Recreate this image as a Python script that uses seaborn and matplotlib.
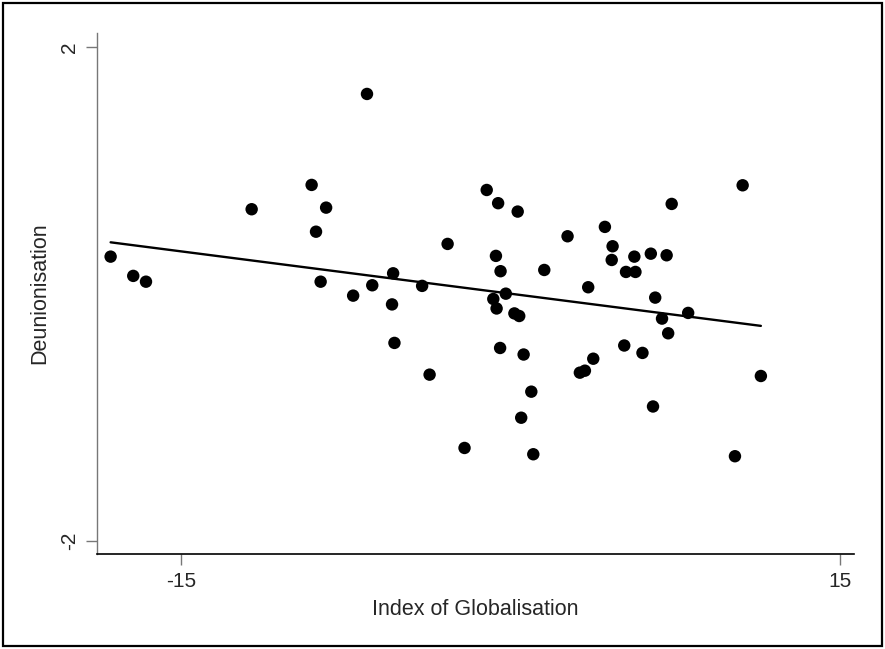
import matplotlib
matplotlib.use("Agg")
import matplotlib.pyplot as plt
import seaborn as sns
import pandas as pd
from matplotlib.patches import Rectangle

globalisation = [
    -18.20, -17.17, -16.59, -11.78, -9.05, -8.39, -8.85, -8.64, -7.16, -6.53,
    -6.29, -5.34, -5.39, -5.28, -4.02, -3.68, -2.86, -2.09, -1.08, -0.56,
    0.33, -0.66, -0.45, -0.21, -0.78, -0.63, 0.18, 0.40, -0.47, 0.60,
    0.95, 0.49, 1.04, 1.54, 2.60, 3.54, 4.30, 4.65, 4.61, 5.26,
    5.69, 5.64, 6.39, 7.11, 7.34, 6.59, 6.90, 7.18, 8.09, 5.18,
    6.01, 3.77, 3.16, 3.39, 6.49, 10.57, 11.40, 10.22,
]
deunionisation = [
    0.301, 0.145, 0.098, 0.685, 0.882, 0.698, 0.503, 0.098, -0.015, 1.619,
    0.069, 0.166, -0.086, -0.398, 0.064, -0.655, 0.404, -1.249, 0.841, 0.734,
    0.666, 0.307, 0.183, 0.001, -0.042, -0.119, -0.159, -0.180, -0.439, -0.492,
    -0.793, -1.004, -1.300, 0.193, 0.466, 0.053, 0.542, 0.385, 0.274, 0.177,
    0.177, 0.301, 0.325, 0.312, 0.728, -0.031, -0.201, -0.320, -0.155, -0.419,
    -0.479, -0.526, -0.639, -0.623, -0.913, 0.879, -0.666, -1.316,
]
x_ticks = [-15, 15]
y_ticks = [-2, 2]

df = pd.DataFrame({"Index of Globalisation": globalisation,
                   "Deunionisation": deunionisation})

sns.set_style("white")
plt.rcParams["font.family"] = ["Liberation Sans", "DejaVu Sans"]

fig = plt.figure(figsize=(8.85, 6.49), dpi=100)
fig.patch.set_facecolor("white")
fig.patches.append(Rectangle((0.003, 0.004), 0.994, 0.992, transform=fig.transFigure,
                             fill=False, edgecolor="black", linewidth=1.6))
ax = fig.add_axes([0.1096, 0.1464, 0.8554, 0.8028])

sns.scatterplot(data=df, x="Index of Globalisation", y="Deunionisation", ax=ax,
                color="black", s=80, edgecolor="none", linewidth=0, zorder=3)
sns.regplot(data=df, x="Index of Globalisation", y="Deunionisation", ax=ax,
            scatter=False, ci=None, truncate=True,
            line_kws={"color": "black", "linewidth": 1.7})

ax.set_xlim(-18.82, 15.64)
ax.set_ylim(-2.108, 2.113)
ax.set_xticks(x_ticks)
ax.set_yticks(y_ticks)
ax.set_xticklabels([str(t) for t in x_ticks], fontsize=15)
ax.set_yticklabels([str(t) for t in y_ticks], fontsize=15, rotation=90, va="center")
ax.tick_params(axis="both", direction="out", length=8, width=1, color="#777777",
               pad=5, left=True, bottom=True)
ax.set_xlabel("Index of Globalisation", fontsize=15.5, labelpad=6)
ax.set_ylabel("Deunionisation", fontsize=15.5, labelpad=7)

for side in ["top", "right"]:
    ax.spines[side].set_visible(False)
ax.spines["left"].set_color("#777777")
ax.spines["left"].set_linewidth(1)
ax.spines["bottom"].set_color("black")
ax.spines["bottom"].set_linewidth(1.2)

fig.savefig("out.png", dpi=100, facecolor="white")
